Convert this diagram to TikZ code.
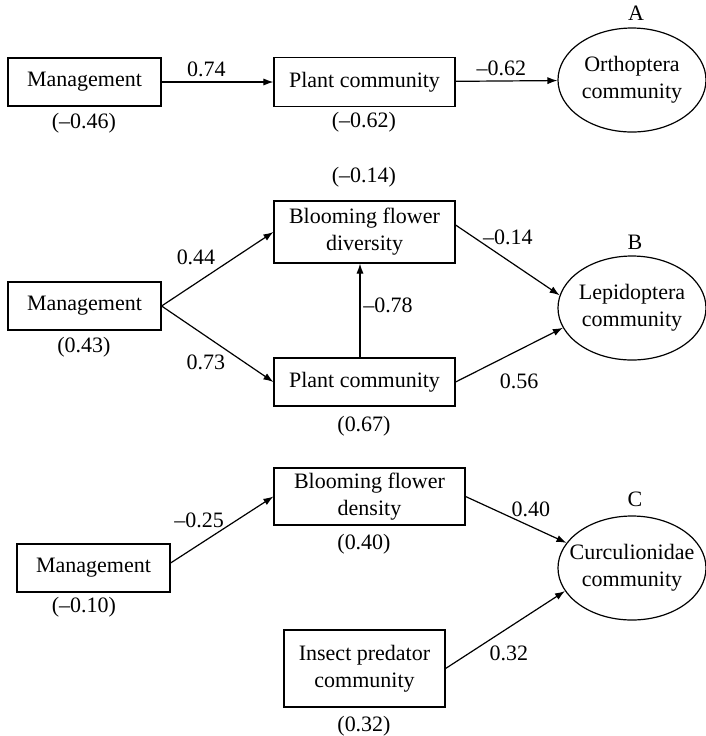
\documentclass[tikz,border=0pt]{standalone}
\usepackage{fontspec}
\setmainfont{Liberation Serif}          % police type Times
\usepackage{tikz}
\usetikzlibrary{shapes.geometric,       % pour les ellipses
           arrows.meta,                 % pointes de flèches
           calc}                        % Calculs de coordonnées entre $ $

\begin{document}
\begin{tikzpicture}[x=0.5pt,y=-0.5pt,font=\fontsize{11}{13.5}\selectfont,
    boite/.style={draw,line width=0.6pt,inner sep=0,align=center},
    ell/.style={draw,ellipse,line width=0.6pt,inner sep=-6pt,align=center,
                minimum width=74pt,minimum height=52pt},
    coef/.style={inner sep=0},
    fl/.style={-{Latex[length=5pt,width=3.6pt]},line width=0.6pt}]
\useasboundingbox (0,0) rectangle (706,736);

\node[boite,minimum width=76.5pt,minimum height=24pt](MA) at (84.5,82) {Management};
\node[boite,minimum width=90.5pt,minimum height=24.5pt](PA) at (364.5,82) {Plant community};
\node[ell](OA) at (632,80) {Orthoptera\\community};
\node[coef](lA) at (636,13) {A};
\node[coef](rMA) at (84,123) {(–0.46)};
\node[coef](rPA) at (364,122) {(–0.62)};
\draw[fl](MA) -- (PA) node[coef,above=2.5pt,pos=0.4](cMA){0.74};
\draw[fl](PA) -- (OA) node[coef,above=2.5pt,pos=0.45](cPA){–0.62};

\node[boite,minimum width=90.5pt,minimum height=31pt](DB) at (364.5,232) {Blooming flower\\diversity};
\node[boite,minimum width=76.5pt,minimum height=24pt](MB) at (84.5,306) {Management};
\node[boite,minimum width=90.5pt,minimum height=24pt](PB) at (364.5,382) {Plant community};
\node[ell](LB) at (632,308) {Lepidoptera\\community};
\node[coef](lB) at (635,242) {B};
\node[coef](rDB) at (364,177) {(–0.14)};
\node[coef](rMB) at (84,347) {(0.43)};
\node[coef](rPB) at (364,426) {(0.67)};
\draw[fl](MB.east) -- (DB.west);
\draw[fl](MB.east) -- (PB.west);
\draw[fl]($(PB.north)+(-4.5,0)$) -- ($(DB.south)+(-4.5,0)$);
\draw[fl]($(DB.east)+(0,-7)$) -- (LB.170);
\draw[fl](PB.east) -- (LB.196);
\node[coef](cMD) at (196,257) {0.44};
\node[coef](cMP) at (206,362) {0.73};
\node[coef](cPD) at (388,305) {–0.78};
\node[coef](cDL) at (508,237) {–0.14};
\node[coef](cPL) at (519,381) {0.56};

\node[boite,minimum width=95.5pt,minimum height=28.5pt](DC) at (369.5,496.5) {Blooming flower\\density};
\node[boite,minimum width=76.5pt,minimum height=24pt](MC) at (93.5,568) {Management};
\node[boite,minimum width=80.5pt,minimum height=38.5pt](IC) at (364.5,668.5) {Insect predator\\community};
\node[ell](CC) at (632,568) {Curculionidae\\community};
\node[coef](lC) at (635,499) {C};
\node[coef](rDC) at (364,544) {(0.40)};
\node[coef](rMC) at (84,607) {(–0.10)};
\node[coef](rIC) at (364,726) {(0.32)};
\draw[fl]($(MC.east)+(0,-5)$) -- (DC.west);
\draw[fl](DC.east) -- (CC.159);
\draw[fl](IC.east) -- (CC.199);
\node[coef](cMC) at (199,520) {–0.25};
\node[coef](cDC) at (531,509) {0.40};
\node[coef](cIC) at (509,653) {0.32};
\end{tikzpicture}
\end{document}
